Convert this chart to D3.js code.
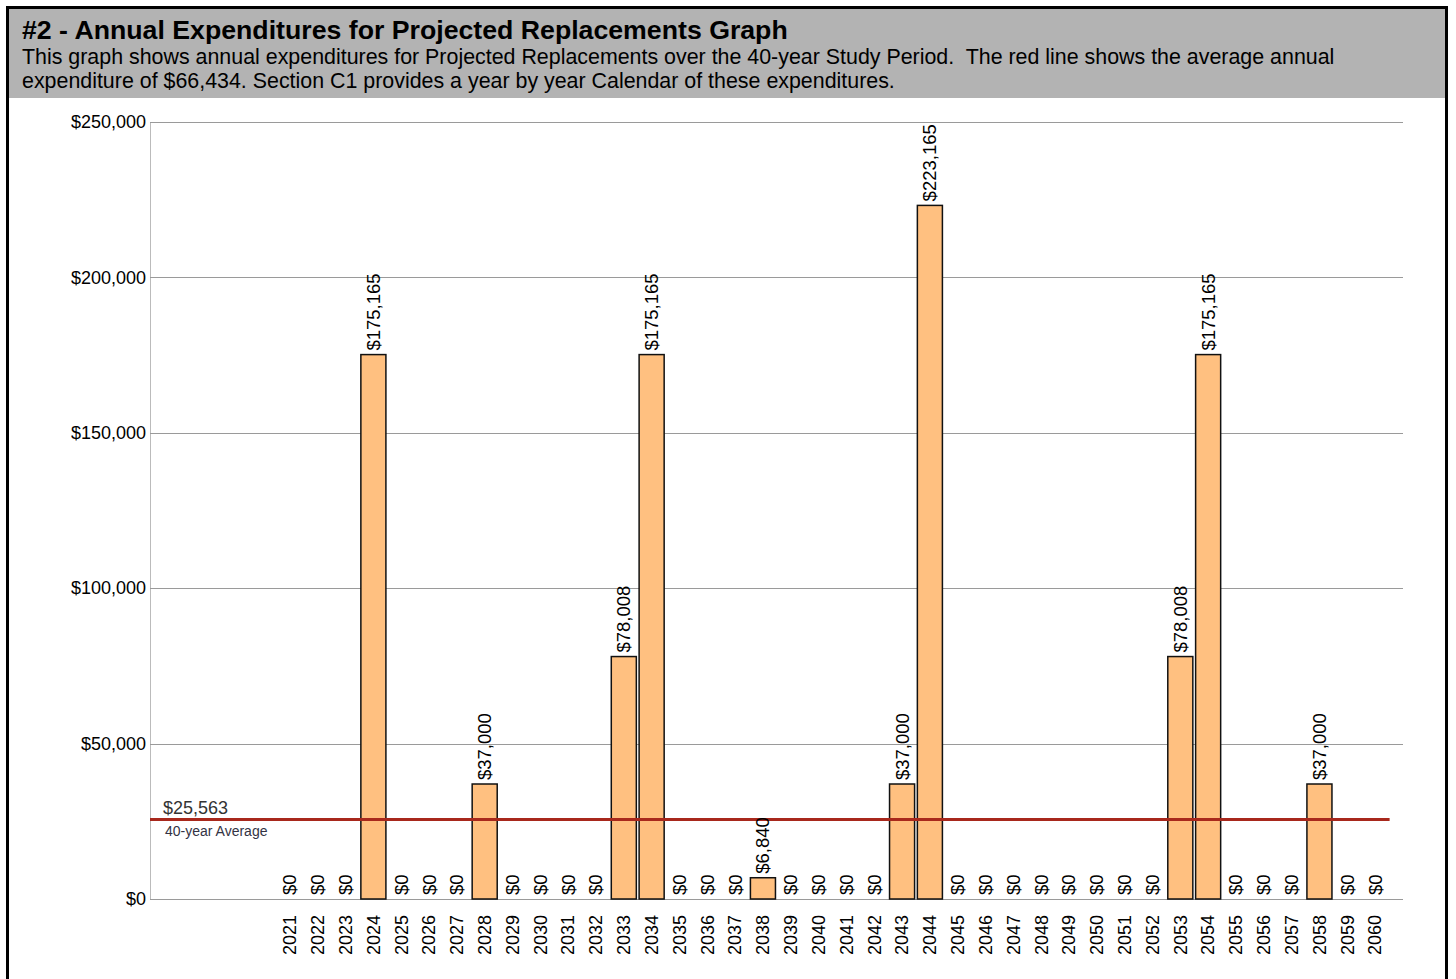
<!DOCTYPE html>
<html>
<head>
<meta charset="utf-8">
<script src="https://cdn.jsdelivr.net/npm/d3@7"></script>
<style>
  html, body { margin: 0; padding: 0; background: #fff; }
  svg { display: block; font-family: "Liberation Sans", Arial, sans-serif; }
  text { white-space: pre; }
</style>
</head>
<body>
<div id="chart"></div>
<script>
// Annual expenditures for projected replacements
const years = d3.range(2021, 2061).map(String);
const amounts = [
    0, 0, 0, 175165, 0, 0, 0, 37000, 0, 0,
    0, 0, 78008, 175165, 0, 0, 0, 6840, 0, 0,
    0, 0, 37000, 223165, 0, 0, 0, 0, 0, 0,
    0, 0, 78008, 175165, 0, 0, 0, 37000, 0, 0
];
const yTicks = [0, 50000, 100000, 150000, 200000, 250000];
const average = 25563;
const titleText = "#2 - Annual Expenditures for Projected Replacements Graph";
const descLines = [
    "This graph shows annual expenditures for Projected Replacements over the 40-year Study Period.  The red line shows the average annual",
    "expenditure of $66,434. Section C1 provides a year by year Calendar of these expenditures."
];

(() => {
    const W = 1456, H = 979;
    const svg = d3.select("#chart").append("svg").attr("width", W).attr("height", H);

    // header box
    svg.append("rect").attr("x", 8).attr("y", 8).attr("width", 1438).attr("height", 90).attr("fill", "#b3b3b3");
    svg.append("text").attr("x", 22).attr("y", 39)
        .attr("font-size", 26.7).attr("font-weight", "bold").text(titleText);
    svg.selectAll("text.desc").data(descLines).join("text")
        .attr("class", "desc")
        .attr("x", 22).attr("y", (d, i) => 64 + i * 24)
        .attr("font-size", 21.4).text(d => d);

    // outer frame
    svg.append("path").attr("d", "M7.5,979 V7.5 H1446.5 V979")
        .attr("fill", "none").attr("stroke", "#000").attr("stroke-width", 3);

    const plot = { left: 150, right: 1403, top: 122, bottom: 899 };
    const data = years.map((y, i) => ({ year: y, value: amounts[i] }));

    const x = d3.scaleBand().domain(years).range([276, 1389]).paddingInner(0.1).paddingOuter(0.05);
    const y = d3.scaleLinear().domain([0, 250000]).range([plot.bottom, plot.top]);
    const fmt = d3.format(",");

    // gridlines + y labels
    const yAxis = svg.append("g").attr("transform", `translate(${plot.left},0)`)
        .call(d3.axisLeft(y).tickValues(yTicks).tickSize(0).tickPadding(4)
            .tickFormat(d => "$" + fmt(d)));
    yAxis.select(".domain").attr("stroke", "#bbb");
    yAxis.selectAll(".tick text").attr("font-size", 18).attr("fill", "#000")
        .attr("font-family", "Liberation Sans, Arial, sans-serif");
    svg.append("g").selectAll("line").data(yTicks).join("line")
        .attr("x1", plot.left).attr("x2", plot.right)
        .attr("y1", d => Math.round(y(d)) + 0.5).attr("y2", d => Math.round(y(d)) + 0.5)
        .attr("stroke", "#9a9a9a").attr("stroke-width", 1);

    // bars
    svg.append("g").selectAll("rect").data(data.filter(d => d.value > 0)).join("rect")
        .attr("x", d => x(d.year))
        .attr("y", d => y(d.value))
        .attr("width", x.bandwidth())
        .attr("height", d => y(0) - y(d.value))
        .attr("fill", "#ffc080").attr("stroke", "#111").attr("stroke-width", 1.5);

    // average line
    svg.append("line")
        .attr("x1", plot.left).attr("x2", x(years[years.length - 1]) + x.bandwidth() + 2)
        .attr("y1", y(average)).attr("y2", y(average))
        .attr("stroke", "#a8281c").attr("stroke-width", 3);
    svg.append("text").attr("x", 163).attr("y", y(average) - 6)
        .attr("font-size", 18).attr("fill", "#333").text("$" + fmt(average));
    svg.append("text").attr("x", 165).attr("y", y(average) + 16)
        .attr("font-size", 14).attr("fill", "#333344").text("40-year Average");

    // value labels
    svg.append("g").selectAll("text").data(data).join("text")
        .attr("transform", d => `translate(${x(d.year) + x.bandwidth() / 2},${y(d.value) - 4}) rotate(-90)`)
        .attr("dy", "0.35em")
        .attr("font-size", 18.5).attr("fill", "#000")
        .text(d => "$" + fmt(d.value));

    // year labels
    svg.append("g").selectAll("text").data(data).join("text")
        .attr("transform", d => `translate(${x(d.year) + x.bandwidth() / 2},${plot.bottom + 16}) rotate(-90)`)
        .attr("dy", "0.35em").attr("text-anchor", "end")
        .attr("font-size", 18).attr("fill", "#000")
        .text(d => d.year);
})();
</script>
</body>
</html>
